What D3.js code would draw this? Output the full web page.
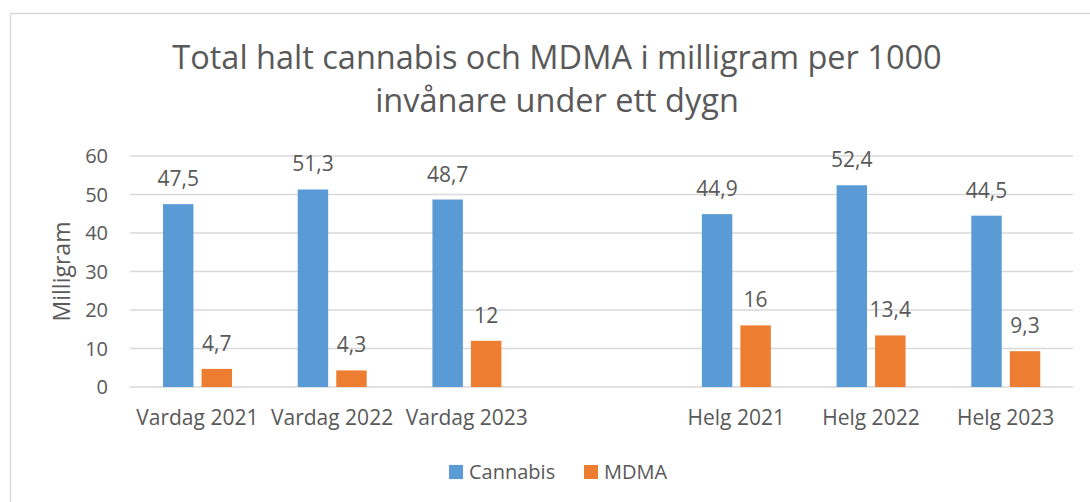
<!DOCTYPE html>
<html>
<head>
<meta charset="utf-8">
<script src="https://cdn.jsdelivr.net/npm/d3@7"></script>
<style>
  body { margin: 0; background: #fff; }
  text { font-family: "Open Sans", "Noto Sans", sans-serif; fill: #595959; }
</style>
</head>
<body>
<div id="chart"></div>
<script>
// Data
var categories = ["Vardag 2021", "Vardag 2022", "Vardag 2023", "", "Helg 2021", "Helg 2022", "Helg 2023"];
var series = ["Cannabis", "MDMA"];
var cannabis = [47.5, 51.3, 48.7, null, 44.9, 52.4, 44.5];
var mdma = [4.7, 4.3, 12, null, 16, 13.4, 9.3];
var yTicks = [0, 10, 20, 30, 40, 50, 60];
var titleLines = ["Total halt cannabis och MDMA i milligram per 1000", "invånare under ett dygn"];

var W = 1090, H = 502
  , m = {top: 156, right: 17, bottom: 115, left: 130}
  , colors = {Cannabis: "#5B9BD5", MDMA: "#ED7D31"};

var svg = d3.select("#chart").append("svg")
  .attr("width", W)
  .attr("height", H);

// Chart area border
svg.append("rect")
  .attr("x", 10.5).attr("y", 13.5)
  .attr("width", W).attr("height", H)
  .attr("fill", "none")
  .attr("stroke", "#d9d9d9")
  .attr("stroke-width", 1.5);

// Scales
var keys = categories.map(function(d, i) { return i; });
var x = d3.scaleBand().domain(keys).range([m.left, W - m.right]);
var bw = x.bandwidth();
var xSub = d3.scaleBand().domain(series).range([bw * 0.245, bw * 0.757]).paddingInner(0.21);
var y = d3.scaleLinear().domain([0, 60]).range([H - m.bottom, m.top]);

// Gridlines
svg.append("g")
  .selectAll("line")
  .data(yTicks)
  .join("line")
  .attr("x1", m.left).attr("x2", W - m.right)
  .attr("y1", function(d) { return y(d); })
  .attr("y2", function(d) { return y(d); })
  .attr("stroke", "#d9d9d9")
  .attr("stroke-width", 1.5);

// Y tick labels
svg.append("g")
  .selectAll("text")
  .data(yTicks)
  .join("text")
  .attr("x", 108)
  .attr("y", function(d) { return y(d); })
  .attr("dy", "0.35em")
  .attr("text-anchor", "end")
  .style("font-size", "20px")
  .text(function(d) { return d; });

// Y axis title
svg.append("text")
  .attr("transform", "translate(62," + ((y(0) + y(60)) / 2) + ") rotate(-90)")
  .attr("text-anchor", "middle")
  .attr("dy", "0.35em")
  .style("font-size", "23px")
  .text("Milligram");

// Bars
var rows = [];
keys.forEach(function(k) {
  if (cannabis[k] != null) rows.push({k: k, s: "Cannabis", v: cannabis[k]});
  if (mdma[k] != null) rows.push({k: k, s: "MDMA", v: mdma[k]});
});

svg.append("g")
  .selectAll("rect")
  .data(rows)
  .join("rect")
  .attr("x", function(d) { return x(d.k) + xSub(d.s); })
  .attr("y", function(d) { return y(d.v); })
  .attr("width", xSub.bandwidth())
  .attr("height", function(d) { return y(0) - y(d.v); })
  .attr("fill", function(d) { return colors[d.s]; });

// Data labels
svg.append("g")
  .selectAll("text")
  .data(rows)
  .join("text")
  .attr("x", function(d) { return x(d.k) + xSub(d.s) + xSub.bandwidth() / 2; })
  .attr("y", function(d) { return y(d.v) - 18; })
  .attr("text-anchor", "middle")
  .style("font-size", "21px")
  .text(function(d) { return String(d.v).replace(".", ","); });

// Category labels
svg.append("g")
  .selectAll("text")
  .data(keys)
  .join("text")
  .attr("x", function(d) { return x(d) + bw / 2; })
  .attr("y", 425)
  .attr("text-anchor", "middle")
  .style("font-size", "21px")
  .text(function(d) { return categories[d]; });

// Title
svg.append("g")
  .selectAll("text")
  .data(titleLines)
  .join("text")
  .attr("x", 557)
  .attr("y", function(d, i) { return 69 + i * 43; })
  .attr("text-anchor", "middle")
  .style("font-size", "32.5px")
  .text(function(d) { return d; });

// Legend
var legend = svg.append("g");
var lx = [449, 584];
series.forEach(function(s, i) {
  legend.append("rect")
    .attr("x", lx[i]).attr("y", 465)
    .attr("width", 14).attr("height", 14)
    .attr("fill", colors[s]);
  legend.append("text")
    .attr("x", lx[i] + 20).attr("y", 472)
    .attr("dy", "0.35em")
    .style("font-size", "20px")
    .text(s);
});
</script>
</body>
</html>
